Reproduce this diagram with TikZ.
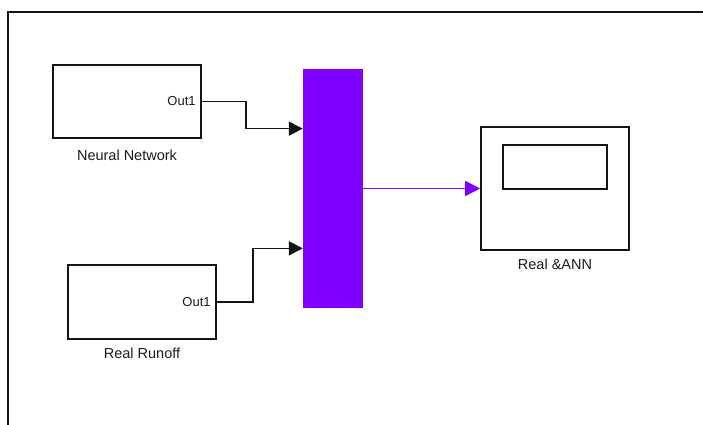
\documentclass[tikz,border=0pt]{standalone}
\usepackage{fontspec}
\setmainfont{Liberation Sans}
\usetikzlibrary{arrows.meta,positioning,calc}
\definecolor{muxpurple}{RGB}{128,0,255}
\definecolor{simblack}{RGB}{20,20,20}
\definecolor{simtext}{RGB}{25,25,35}
\tikzset{
  subsys/.style={rectangle,draw=simblack,line width=1.6pt,minimum width=148pt,
    minimum height=73pt,inner sep=0pt},
  scopebox/.style={rectangle,draw=simblack,line width=1.6pt,minimum width=#1,
    inner sep=0pt},
  muxbar/.style={rectangle,fill=muxpurple,draw=none,minimum width=60pt,
    minimum height=239pt,inner sep=0pt},
  portlabel/.style={font=\fontsize{13}{15}\selectfont,text=simtext,inner sep=0pt,
    anchor=east},
  blocklabel/.style={font=\fontsize{14.5}{16}\selectfont,text=simtext,inner sep=0pt},
  sigline/.style={-{Triangle[length=14pt,width=14pt]},line width=1.6pt,color=simblack},
  busline/.style={-{Triangle[length=15pt,width=15pt]},line width=1.6pt,color=muxpurple},
}

\begin{document}
\begin{tikzpicture}[x=1pt,y=-1pt]
\useasboundingbox (0,0) rectangle (703,425);

% ── Model frame (left and top edge) ───────────────────────────────────────
\draw[line width=2pt,color=simblack] (8,425) -- (8,12) -- (703,12);

% ── Source subsystems ─────────────────────────────────────────────────────
\node[subsys] (nn) at (127,101.5) {};
\node[portlabel, xshift=-6pt] (nnout) at (nn.east) {Out1};
\node[blocklabel, below=11pt of nn] (nnlbl) {Neural Network};

\node[subsys, minimum height=74pt] (rr) at (142,302) {};
\node[portlabel, xshift=-6pt] (rrout) at (rr.east) {Out1};
\node[blocklabel, below=8pt of rr] (rrlbl) {Real Runoff};

% ── Mux bar ───────────────────────────────────────────────────────────────
\node[muxbar] (mux) at (333,188.5) {};
\coordinate (muxin1) at ($(mux.north west)!0.25!(mux.south west)$);
\coordinate (muxin2) at ($(mux.north west)!0.75!(mux.south west)$);

% ── Scope ─────────────────────────────────────────────────────────────────
\node[scopebox=148pt, minimum height=123pt] (scope) at (555,188.5) {};
\node[scopebox=104pt, minimum height=44pt] (screen) at (555,167) {};
\node[blocklabel, below=8pt of scope] (scopelbl) {Real \&ANN};

% ── Signal lines ──────────────────────────────────────────────────────────
\draw[sigline] (nn.east) -- ++(44,0) |- (muxin1);
\draw[sigline] (rr.east) -- ++(36,0) |- (muxin2);
\draw[busline] (mux.east) -- (scope.west);

\end{tikzpicture}
\end{document}
